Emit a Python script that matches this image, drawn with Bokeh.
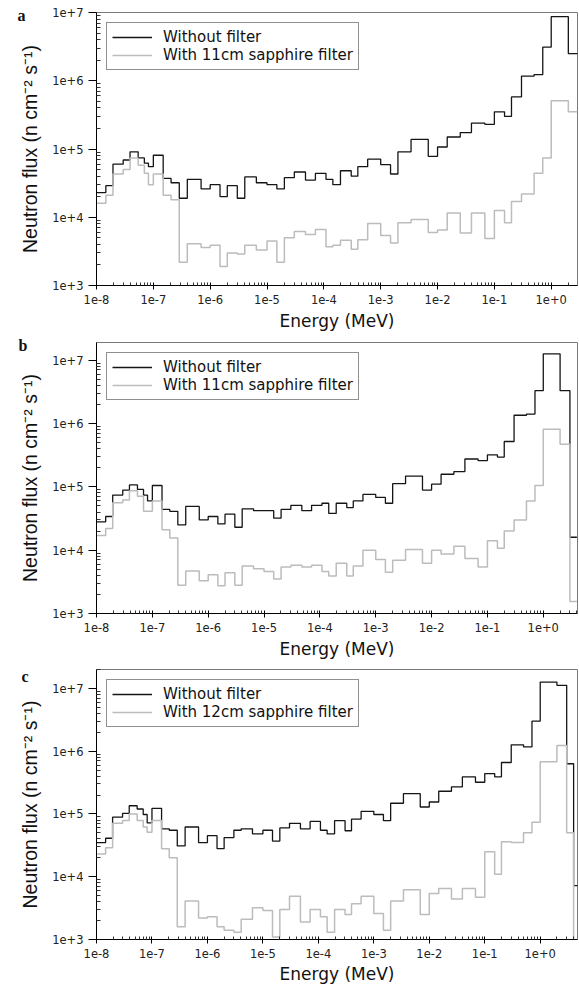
from bokeh.plotting import figure
from bokeh.models import (FixedTicker, CustomJSTickFormatter, Legend,
                          LegendItem, Range1d, LogAxis)
from bokeh.layouts import column
from bokeh.embed import file_html
from bokeh.resources import INLINE

# ---------------- data ----------------
energy_edges = [1.0e-8, 1.46e-8, 1.95e-8, 2.95e-8, 3.89e-8, 5.41e-8, 6.95e-8, 8.2e-8,
                1.0e-7, 1.49e-7, 2.05e-7, 2.86e-7, 3.96e-7, 6.92e-7, 1.0e-6, 1.49e-6,
                2.0e-6, 3.0e-6, 4.06e-6, 6.49e-6, 1.0e-5, 1.49e-5, 2.02e-5, 3.02e-5,
                4.75e-5, 7.1e-5, 1.09e-4, 1.44e-4, 1.96e-4, 3.03e-4, 3.96e-4, 5.9e-4,
                1.0e-3, 1.49e-3, 2.01e-3, 3.42e-3, 6.87e-3, 1.0e-2, 1.48e-2, 2.51e-2,
                3.95e-2, 6.8e-2, 0.1, 0.151, 0.2, 0.3, 0.5, 0.71, 1.0, 2.0, 3.0, 4.0, 5.0]

flux_a_without = [2.3e4, 2.9e4, 6.0e4, 6.9e4, 9.1e4, 7.4e4, 6.2e4, 5.5e4, 8.1e4, 3.7e4,
                  3.2e4, 1.9e4, 3.6e4, 2.6e4, 3.0e4, 2.0e4, 2.9e4, 1.9e4, 3.9e4, 3.2e4,
                  3.0e4, 2.6e4, 3.8e4, 4.6e4, 3.5e4, 4.4e4, 3.6e4, 3.0e4, 4.8e4, 4.0e4,
                  5.5e4, 7.1e4, 5.9e4, 4.3e4, 9.1e4, 1.38e5, 7.8e4, 1.07e5, 1.5e5, 1.74e5,
                  2.4e5, 2.3e5, 3.5e5, 3.0e5, 5.8e5, 1.17e6, 1.23e6, 3.1e6, 8.7e6, 2.5e6]
flux_a_with = [1.6e4, 2.1e4, 4.3e4, 5.0e4, 7.4e4, 5.8e4, 4.4e4, 3.0e4, 4.3e4, 2.1e4,
               1.8e4, 2.2e3, 4.1e3, 3.6e3, 3.9e3, 1.9e3, 3.0e3, 2.9e3, 3.9e3, 3.3e3,
               4.5e3, 2.2e3, 5.0e3, 6.2e3, 5.6e3, 6.6e3, 3.7e3, 3.9e3, 4.6e3, 3.4e3,
               4.7e3, 8.1e3, 5.4e3, 4.2e3, 8.3e3, 9.3e3, 6.0e3, 6.5e3, 1.15e4, 5.9e3,
               1.15e4, 4.9e3, 1.26e4, 8.3e3, 1.7e4, 2.2e4, 4.4e4, 7.4e4, 5.1e5, 3.5e5]

flux_b_without = [2.8e4, 3.4e4, 7.4e4, 8.9e4, 1.07e5, 9.1e4, 7.4e4, 6.0e4, 1.05e5, 4.4e4,
                  4.1e4, 2.5e4, 4.9e4, 3.0e4, 3.4e4, 2.6e4, 3.7e4, 2.3e4, 4.5e4, 4.2e4,
                  4.2e4, 3.2e4, 4.4e4, 5.1e4, 4.2e4, 5.1e4, 5.5e4, 3.8e4, 5.5e4, 4.7e4,
                  6.0e4, 7.6e4, 6.8e4, 5.5e4, 1.12e5, 1.48e5, 8.9e4, 1.10e5, 1.58e5, 1.74e5,
                  2.75e5, 2.6e5, 3.2e5, 2.95e5, 5.2e5, 1.35e6, 1.41e6, 3.3e6, 1.26e7, 3.3e6,
                  1.6e4]
flux_b_with = [1.7e4, 2.2e4, 5.6e4, 6.2e4, 8.7e4, 7.1e4, 4.1e4, 4.1e4, 6.0e4, 2.1e4,
               1.55e4, 2.8e3, 4.7e3, 3.3e3, 4.1e3, 2.75e3, 4.4e3, 2.8e3, 5.6e3, 5.1e3,
               4.6e3, 3.5e3, 5.4e3, 5.8e3, 5.4e3, 5.8e3, 4.6e3, 3.9e3, 6.2e3, 3.9e3,
               5.6e3, 1.0e4, 7.1e3, 4.5e3, 6.9e3, 1.02e4, 6.2e3, 1.0e4, 8.7e3, 1.15e4,
               7.4e3, 5.4e3, 1.41e4, 1.07e4, 2.0e4, 3.0e4, 6.0e4, 1.05e5, 8.1e5, 4.7e5,
               1.55e3]

flux_c_without = [3.5e4, 4.1e4, 8.9e4, 1.02e5, 1.35e5, 1.2e5, 9.8e4, 7.2e4, 1.23e5, 5.8e4,
                  5.5e4, 3.1e4, 6.2e4, 3.5e4, 4.5e4, 2.8e4, 4.2e4, 5.5e4, 5.8e4, 4.8e4,
                  5.5e4, 3.7e4, 6.0e4, 7.1e4, 5.8e4, 7.6e4, 5.5e4, 4.8e4, 7.8e4, 5.4e4,
                  8.3e4, 1.1e5, 9.8e4, 7.8e4, 1.48e5, 2.1e5, 1.29e5, 1.55e5, 2.3e5, 2.7e5,
                  3.9e5, 3.2e5, 4.4e5, 3.9e5, 6.6e5, 1.26e6, 1.17e6, 3.0e6, 1.26e7, 1.12e7,
                  6.3e5, 7.2e3]
flux_c_with = [2.3e4, 2.9e4, 7.1e4, 7.9e4, 1.0e5, 7.9e4, 6.2e4, 5.1e4, 7.9e4, 2.8e4,
               2.0e4, 1.6e3, 4.1e3, 2.2e3, 2.3e3, 1.6e3, 1.4e3, 1.3e3, 2.1e3, 3.2e3,
               2.9e3, 1.1e3, 3.0e3, 4.9e3, 1.9e3, 3.0e3, 2.3e3, 1.3e3, 3.0e3, 2.5e3,
               3.7e3, 4.9e3, 2.6e3, 1.4e3, 4.1e3, 6.2e3, 2.5e3, 5.4e3, 6.5e3, 4.4e3,
               6.5e3, 4.7e3, 2.5e4, 1.1e4, 3.6e4, 3.5e4, 5.0e4, 7.4e4, 6.8e5, 1.23e6,
               5.0e4, 5.0e2]

panel_letters = ["a", "b", "c"]
series_without_label = "Without filter"
series_with_labels = ["With 11cm sapphire filter", "With 11cm sapphire filter",
                      "With 12cm sapphire filter"]
x_axis_title = "Energy (MeV)"
y_axis_title = "Neutron flux (n cm\u207b\u00b2 s\u207b\u00b9)"
x_tick_values = [1e-8, 1e-7, 1e-6, 1e-5, 1e-4, 1e-3, 1e-2, 1e-1, 1e0]
y_tick_values = [1e3, 1e4, 1e5, 1e6, 1e7]
x_limits = [(1e-8, 2.9), (1e-8, 4.1), (1e-8, 4.7)]
y_limits = [(1e3, 1e7), (1e3, 1.9e7), (1e3, 2.0e7)]

# ---------------- styling / layout ----------------
BLACK = "#151515"
GREY = "#bcbcbc"
H_FONT = "DejaVu Sans"
V_FONT = "Liberation Sans"

x_minor = [m * 10.0 ** k for k in range(-9, 1) for m in range(2, 10)]
y_minor = [m * 10.0 ** k for k in range(2, 8) for m in range(2, 10)]

# (height, top border, bottom border, tick-label standoff, axis-label standoff)
panel_geom = [(336, 12, 51, 5, 4), (328, 6, 51, 5, 4), (325, 5, 50, 5, 3)]
# panel letter: offset (px) below the frame top, and standoff of its label axis
letter_geom = [(3, -9), (3, -11), (0, -12)]


def step_xy(edges, values):
    n = len(values)
    xs = list(edges[: n + 1])
    ys = list(values) + [values[-1]]
    return xs, ys


def make_panel(i, without, with_):
    height, btop, bbot, tstand, lstand = panel_geom[i]
    fh = height - btop - bbot
    p = figure(width=579, height=height, x_axis_type="log", y_axis_type="log",
               x_range=Range1d(*x_limits[i]), y_range=Range1d(*y_limits[i]),
               output_backend="svg", toolbar_location=None,
               min_border_left=96, min_border_right=2,
               min_border_top=btop, min_border_bottom=bbot)
    p.xgrid.visible = False
    p.ygrid.visible = False
    p.outline_line_color = "#7a7a7a"
    p.outline_line_width = 1
    p.background_fill_color = "white"
    p.border_fill_color = "white"

    xs, ys = step_xy(energy_edges, without)
    r1 = p.step(xs, ys, mode="after", line_color=BLACK, line_width=1.3)
    xs, ys = step_xy(energy_edges, with_)
    r2 = p.step(xs, ys, mode="after", line_color=GREY, line_width=1.5)

    xa = p.xaxis[0]
    xa.ticker = FixedTicker(ticks=x_tick_values, minor_ticks=x_minor)
    xa.formatter = CustomJSTickFormatter(code="return tick.toExponential(0);")
    xa.axis_label = x_axis_title
    xa.axis_label_text_font = H_FONT
    xa.axis_label_text_font_size = "17px"
    xa.axis_label_text_font_style = "normal"
    xa.axis_label_text_color = "#111111"
    xa.axis_label_standoff = lstand
    xa.major_label_text_font = H_FONT
    xa.major_label_text_font_size = "11.5px"
    xa.major_label_text_color = "#222222"
    xa.major_label_standoff = tstand
    xa.major_tick_out = 4
    xa.major_tick_in = 3
    xa.minor_tick_in = 3
    xa.minor_tick_out = 0
    xa.axis_line_color = "black"
    xa.major_tick_line_color = "black"
    xa.minor_tick_line_color = "#333333"

    ya = p.yaxis[0]
    ya.ticker = FixedTicker(ticks=y_tick_values, minor_ticks=y_minor)
    ya.formatter = CustomJSTickFormatter(code="return tick.toExponential(0);")
    ya.axis_label = y_axis_title
    ya.axis_label_text_font = V_FONT
    ya.axis_label_text_font_size = "19.5px"
    ya.axis_label_text_font_style = "normal"
    ya.axis_label_text_color = "#111111"
    ya.axis_label_standoff = 8
    ya.major_label_text_font = H_FONT
    ya.major_label_text_font_size = "11.5px"
    ya.major_label_text_color = "#222222"
    ya.major_label_standoff = 5
    ya.major_tick_out = 8
    ya.major_tick_in = 0
    ya.minor_tick_in = 4
    ya.minor_tick_out = 0
    ya.axis_line_color = "black"
    ya.major_tick_line_color = "black"
    ya.minor_tick_line_color = "#333333"

    # panel letter, drawn as the single label of an extra (invisible) left axis
    drop_px, lab_standoff = letter_geom[i]
    y_lo, y_hi = y_limits[i]
    decades = (len(y_tick_values) - 1) + (0 if y_hi == y_tick_values[-1] else 0.28)
    letter_tick = y_hi / 10 ** (drop_px * decades / fh)
    la = LogAxis(ticker=FixedTicker(ticks=[letter_tick], minor_ticks=[]),
                 formatter=CustomJSTickFormatter(args=dict(letter=panel_letters[i]),
                                                 code="return letter;"),
                 axis_line_color=None, major_tick_line_color=None,
                 minor_tick_line_color=None, major_tick_out=0, major_tick_in=0,
                 major_label_standoff=lab_standoff,
                 major_label_text_font="Liberation Serif",
                 major_label_text_font_style="bold",
                 major_label_text_font_size="16px",
                 major_label_text_color="#111111")
    p.add_layout(la, "left")

    legend = Legend(items=[LegendItem(label=series_without_label, renderers=[r1]),
                           LegendItem(label=series_with_labels[i], renderers=[r2])],
                    location="top_left", margin=10, padding=5, spacing=0,
                    glyph_width=40, glyph_height=14, label_height=14,
                    label_standoff=11, label_text_font=H_FONT,
                    label_text_font_size="15px", label_text_color="#111111",
                    border_line_color="#222222", border_line_width=1,
                    background_fill_color="white", background_fill_alpha=1.0)
    p.add_layout(legend)
    return p


panels = [make_panel(0, flux_a_without, flux_a_with),
          make_panel(1, flux_b_without, flux_b_with),
          make_panel(2, flux_c_without, flux_c_with)]

layout = column(*panels, spacing=0)
open("out.html", "w").write(file_html(layout, INLINE))
